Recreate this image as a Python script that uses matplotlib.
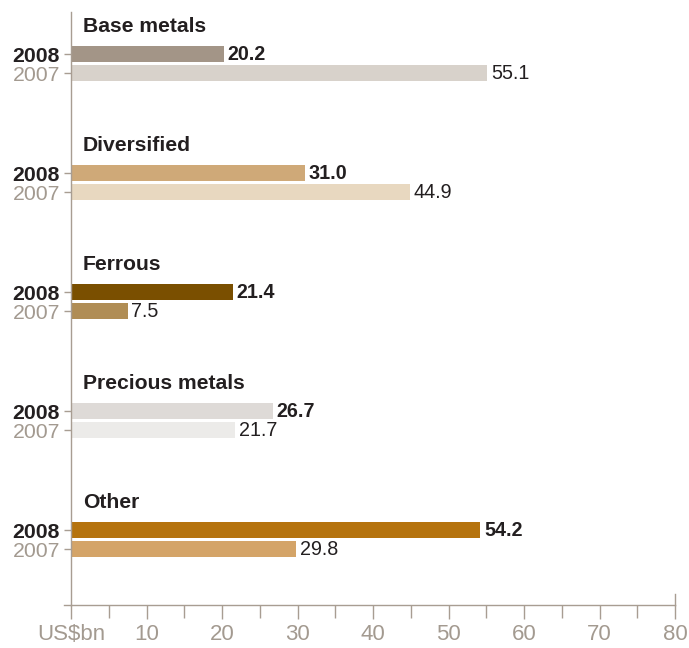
import matplotlib
matplotlib.use("Agg")
import matplotlib.pyplot as plt
from matplotlib.lines import Line2D

categories = ["Base metals", "Diversified", "Ferrous", "Precious metals", "Other"]
values_2008 = [20.2, 31.0, 21.4, 26.7, 54.2]
values_2007 = [55.1, 44.9, 7.5, 21.7, 29.8]
colors_2008 = ["#a39587", "#cfa978", "#7a4f00", "#dedad7", "#b5730e"]
colors_2007 = ["#d8d2cb", "#e8d8c0", "#b08d55", "#ecebe9", "#d4a468"]
year_labels = ["2008", "2007"]
x_ticks = [0, 10, 20, 30, 40, 50, 60, 70, 80]
x_tick_labels = ["US$bn", "10", "20", "30", "40", "50", "60", "70", "80"]

AXIS = "#a89d92"
DARK = "#231f20"
GREY = "#a39a90"
FONT = ["Liberation Sans", "DejaVu Sans"]
NARROW = ["Liberation Sans Narrow", "Liberation Sans", "DejaVu Sans"]

fig = plt.figure(figsize=(6.89, 6.48), dpi=100)
ax = fig.add_axes([71 / 689, 1 - 605 / 648, (675 - 71) / 689, (605 - 12) / 648])

gap = 0.16       # offset of the 2007 bar below the 2008 bar
bar_h = 0.134
title_off = 0.235

ytick_pos, ytick_lab = [], []
for i, cat in enumerate(categories):
    y8 = i
    y7 = i + gap
    ax.barh(y8, values_2008[i], height=bar_h, color=colors_2008[i], zorder=2)
    ax.barh(y7, values_2007[i], height=bar_h, color=colors_2007[i], zorder=2)
    ax.text(values_2008[i] + 0.5, y8, f"{values_2008[i]:.1f}", va="center", ha="left",
            fontsize=14.2, fontweight="bold", color=DARK, family=FONT)
    ax.text(values_2007[i] + 0.5, y7, f"{values_2007[i]:.1f}", va="center", ha="left",
            fontsize=14.2, color=DARK, family=FONT)
    ax.text(1.6, i - title_off, cat, va="center", ha="left",
            fontsize=15.2, fontweight="bold", color=DARK, family=FONT)
    ytick_pos += [y8, y7]
    ytick_lab += year_labels

ax.set_xlim(0, 80)
ax.set_ylim(4.63, -0.353)

ax.set_yticks(ytick_pos)
ax.set_yticklabels(ytick_lab, family=FONT, fontsize=15.3)
for j, lab in enumerate(ax.get_yticklabels()):
    if j % 2 == 0:
        lab.set_fontweight("bold")
        lab.set_color(DARK)
    else:
        lab.set_color(GREY)
ax.tick_params(axis="y", length=5, width=1, color=AXIS, pad=3)

ax.set_xticks(x_ticks)
ax.set_xticks(range(5, 80, 10), minor=True)
ax.set_xticklabels(x_tick_labels, family=NARROW, fontsize=16, color=GREY)
ax.tick_params(axis="x", which="major", length=10, width=1, color=AXIS, pad=4)
ax.tick_params(axis="x", which="minor", length=9, width=1, color=AXIS)

for s in ["top", "right"]:
    ax.spines[s].set_visible(False)
for s in ["left", "bottom"]:
    ax.spines[s].set_color(AXIS)
    ax.spines[s].set_linewidth(1)

# extend the baseline a little left of zero and close it with a raised end tick
trans = ax.get_xaxis_transform()
ax.add_line(Line2D([-0.9, 0], [0, 0], transform=trans, color=AXIS, lw=1, clip_on=False))
ax.add_line(Line2D([80, 80], [0, 0.018], transform=trans, color=AXIS, lw=1, clip_on=False))

fig.savefig("out.png", dpi=100, facecolor="white")
